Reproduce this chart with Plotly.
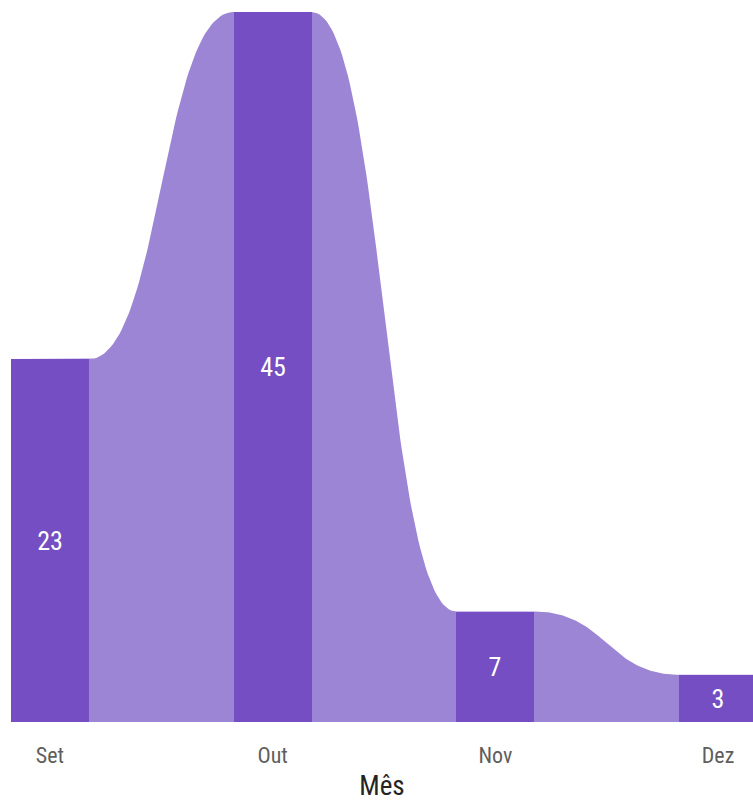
import numpy as np
import plotly.graph_objects as go

months = ["Set", "Out", "Nov", "Dez"]
values = [23, 45, 7, 3]

BAR_COLOR = "#744EC2"
RIBBON_COLOR = "#9C85D5"
BAR_W = 0.35
FONT = "Roboto Condensed, Liberation Sans Narrow, DejaVu Sans Condensed, sans-serif"

xs = np.arange(len(months), dtype=float)

# ribbon geometry: flat across each bar, cubic-bezier connector between bars
rx, ry = [], []
h = BAR_W / 2
for i, v in enumerate(values):
    rx += [xs[i] - h, xs[i] + h]
    ry += [v, v]
    if i < len(values) - 1:
        x0, x1 = xs[i] + h, xs[i + 1] - h
        y0, y1 = v, values[i + 1]
        w = x1 - x0
        s = np.linspace(0, 1, 80)[1:-1]
        c0x, c1x = x0 + w / 2, x1 - w / 2
        bx = (1 - s) ** 3 * x0 + 3 * (1 - s) ** 2 * s * c0x + 3 * (1 - s) * s ** 2 * c1x + s ** 3 * x1
        by = (1 - s) ** 3 * y0 + 3 * (1 - s) ** 2 * s * y0 + 3 * (1 - s) * s ** 2 * y1 + s ** 3 * y1
        rx += list(bx)
        ry += list(by)

XR = [-BAR_W / 2, 3.157]
YR = [0, 45]

fig = go.Figure()
fig.add_trace(go.Scatter(
    x=rx, y=ry, mode="lines", fill="tozeroy",
    line=dict(width=0, color=RIBBON_COLOR), fillcolor=RIBBON_COLOR,
    hoverinfo="skip", showlegend=False, xaxis="x", yaxis="y",
))
fig.add_trace(go.Bar(
    x=xs, y=values, width=BAR_W, marker=dict(color=BAR_COLOR, line=dict(width=0)),
    text=[str(v) for v in values], textposition="inside", insidetextanchor="middle",
    textangle=0, textfont=dict(family=FONT, size=26, color="white"),
    showlegend=False, xaxis="x2", yaxis="y2",
))

fig.update_layout(
    width=753, height=802,
    margin=dict(l=11, r=0, t=12, b=80),
    paper_bgcolor="white", plot_bgcolor="white",
    bargap=0,
    xaxis=dict(
        range=XR, tickvals=list(xs), ticktext=months,
        showgrid=False, zeroline=False, showline=False, ticks="",
        ticklabelstandoff=18,
        tickfont=dict(family=FONT, size=22, color="#605E5C"),
        title=dict(text="Mês", font=dict(family=FONT, size=27, color="#252423"), standoff=12),
    ),
    yaxis=dict(range=YR, visible=False, showgrid=False, zeroline=False),
    xaxis2=dict(range=XR, overlaying="x", visible=False, showgrid=False, zeroline=False),
    yaxis2=dict(range=YR, overlaying="y", visible=False, showgrid=False, zeroline=False),
)

fig.write_html("out.html", config={"displayModeBar": False})

# remove the default page margin so the figure fills the window exactly
with open("out.html", "r", encoding="utf-8") as f:
    html = f.read()
html = html.replace("<body>", '<body style="margin:0;overflow:hidden">', 1)
with open("out.html", "w", encoding="utf-8") as f:
    f.write(html)
